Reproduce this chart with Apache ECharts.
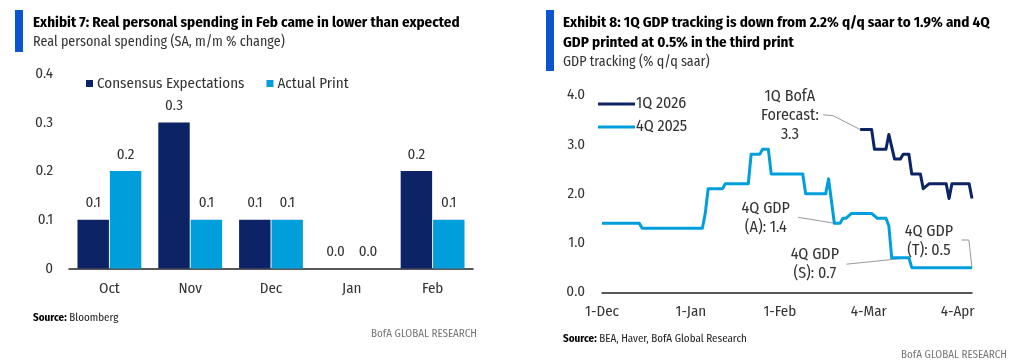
<!DOCTYPE html>
<html>
<head>
<meta charset="utf-8">
<script src="https://cdn.jsdelivr.net/npm/echarts@6/dist/echarts.min.js"></script>
<style>
html,body{margin:0;padding:0;background:#fff;}
#c{width:1024px;height:364px;}
</style>
</head>
<body>
<div id="c"></div>
<script>
// ---------- Data: Exhibit 7 ----------
var months = ['Oct', 'Nov', 'Dec', 'Jan', 'Feb'];
var consensus = [0.1, 0.3, 0.1, 0.0, 0.2];
var actual = [0.2, 0.1, 0.1, 0.0, 0.1];
var barTicks = [0, 0.1, 0.2, 0.3, 0.4];

// ---------- Data: Exhibit 8 ----------
var q1Dates = ['2026-03-01','2026-03-05','2026-03-06','2026-03-10','2026-03-11','2026-03-13','2026-03-15','2026-03-16','2026-03-18','2026-03-19','2026-03-22','2026-03-23','2026-03-25','2026-03-31','2026-04-01','2026-04-02','2026-04-08','2026-04-09'];
var q1Values = [3.3,3.3,2.9,2.9,3.2,2.7,2.7,2.8,2.8,2.4,2.4,2.1,2.2,2.2,1.9,2.2,2.2,1.9];
var q4Dates = ['2025-12-01','2025-12-14','2025-12-15','2026-01-05','2026-01-06','2026-01-07','2026-01-12','2026-01-13','2026-01-21','2026-01-22','2026-01-25','2026-01-26','2026-01-28','2026-01-29','2026-02-09','2026-02-10','2026-02-17','2026-02-18','2026-02-20','2026-02-22','2026-02-23','2026-02-24','2026-02-26','2026-03-05','2026-03-07','2026-03-10','2026-03-11','2026-03-12','2026-03-18','2026-03-19','2026-04-09'];
var q4Values = [1.4,1.4,1.3,1.3,1.6,2.1,2.1,2.2,2.2,2.8,2.8,2.9,2.9,2.4,2.4,2.0,2.0,2.3,1.4,1.4,1.5,1.5,1.6,1.6,1.5,1.5,1.35,0.7,0.7,0.5,0.5];
var gdpTickDates = ['2025-12-01','2026-01-01','2026-02-01','2026-03-04','2026-04-04'];
var gdpTickLabels = ['1-Dec','1-Jan','1-Feb','4-Mar','4-Apr'];
var gdpStart = '2025-12-01';
var gdpEnd = '2026-04-09';

function dayNum(s){
  var p = s.split('-'), b = gdpStart.split('-');
  return Math.round((Date.UTC(+p[0], +p[1]-1, +p[2]) - Date.UTC(+b[0], +b[1]-1, +b[2])) / 86400000);
}
function pairs(ds, vs){ return ds.map(function(d,i){ return [dayNum(d), vs[i]]; }); }
var tickDays = gdpTickDates.map(dayNum);

var FONT = "'Fira Sans Condensed', 'Roboto Condensed', 'DejaVu Sans Condensed', sans-serif";
var NAVY = '#0c2366';
var LIGHT = '#009fdb';
var TXT = '#333333';

var chart = echarts.init(document.getElementById('c'), null, {renderer:'canvas'});

var option = {
  backgroundColor: '#ffffff',
  animation: false,
  textStyle: {fontFamily: FONT},
  grid: [
    {left: 69, top: 73.7, width: 404, height: 194.8},
    {left: 602, top: 95, width: 370, height: 197.3}
  ],
  legend: [
    {
      data: ['Consensus Expectations', 'Actual Print'],
      left: 81, top: 71, icon: 'rect', itemWidth: 7, itemHeight: 7, itemGap: 22,
      textStyle: {fontFamily: FONT, fontSize: 15, color: TXT, padding: [0,0,0,-1]}
    },
    {
      data: ['1Q 2026', '4Q 2025'],
      orient: 'vertical', left: 593, top: 91, icon: 'rect', itemWidth: 37, itemHeight: 3, itemGap: 7,
      textStyle: {fontFamily: FONT, fontSize: 16, color: TXT, padding: [0,0,0,-4]}
    }
  ],
  xAxis: [
    {
      gridIndex: 0, type: 'category', data: months,
      axisLine: {lineStyle: {color: '#222', width: 1.5}},
      axisTick: {show: false},
      axisLabel: {fontFamily: FONT, fontSize: 15, color: TXT, margin: 13}
    },
    {
      gridIndex: 1, type: 'value', min: 0, max: dayNum(gdpEnd), interval: 31,
      axisLine: {onZero: false, lineStyle: {color: '#222', width: 1.5}},
      axisTick: {show: false},
      splitLine: {show: false},
      axisLabel: {fontFamily: FONT, fontSize: 15, color: TXT, margin: 12, showMaxLabel: false,
        formatter: function(v){ var i = tickDays.indexOf(Math.round(v)); return i >= 0 ? gdpTickLabels[i] : ''; }}
    }
  ],
  yAxis: [
    {
      gridIndex: 0, type: 'value', min: barTicks[0], max: barTicks[barTicks.length-1], interval: 0.1,
      axisLine: {show: false}, axisTick: {show: false}, splitLine: {show: false},
      axisLabel: {fontFamily: FONT, fontSize: 15, color: TXT, margin: 16,
        formatter: function(v){ return v === 0 ? '0' : v.toFixed(1); }}
    },
    {
      gridIndex: 1, type: 'value', min: 0, max: 4, interval: 1,
      axisLine: {show: false}, axisTick: {show: false}, splitLine: {show: false},
      axisLabel: {fontFamily: FONT, fontSize: 15, color: TXT, margin: 17,
        formatter: function(v){ return v.toFixed(1); }}
    }
  ],
  series: [
    {
      name: 'Consensus Expectations', type: 'bar', xAxisIndex: 0, yAxisIndex: 0,
      data: consensus, barGap: '3%', barCategoryGap: '21%',
      itemStyle: {color: NAVY},
      label: {show: true, position: 'top', distance: 9, fontFamily: FONT, fontSize: 15, color: TXT,
        formatter: function(p){ return p.value.toFixed(1); }}
    },
    {
      name: 'Actual Print', type: 'bar', xAxisIndex: 0, yAxisIndex: 0,
      data: actual, barGap: '3%', barCategoryGap: '21%',
      itemStyle: {color: LIGHT},
      label: {show: true, position: 'top', distance: 9, fontFamily: FONT, fontSize: 15, color: TXT,
        formatter: function(p){ return p.value.toFixed(1); }}
    },
    {
      name: '1Q 2026', type: 'line', xAxisIndex: 1, yAxisIndex: 1,
      data: pairs(q1Dates, q1Values), showSymbol: false, symbol: 'none',
      lineStyle: {color: NAVY, width: 3, join: 'round'}, itemStyle: {color: NAVY}, z: 4
    },
    {
      name: '4Q 2025', type: 'line', xAxisIndex: 1, yAxisIndex: 1,
      data: pairs(q4Dates, q4Values), showSymbol: false, symbol: 'none',
      lineStyle: {color: LIGHT, width: 3, join: 'round'}, itemStyle: {color: LIGHT}, z: 3
    }
  ]
};
chart.setOption(option);

// ---------- Static page text ----------
function srcText(x, y, rest){
  return {type: 'text', left: x, top: y, style: {
    text: '{b|Source:} ' + rest, font: '11px ' + FONT, fill: '#222',
    rich: {b: {fontWeight: 'bold', fontFamily: FONT, fontSize: 11, fill: '#000'}}
  }};
}
var graphics = [
  {type: 'rect', shape: {x: 15, y: 10, width: 8, height: 42}, style: {fill: '#0b55d0'}},
  {type: 'text', x: 33, y: 23, style: {text: 'Exhibit 7: Real personal spending in Feb came in lower than expected', font: 'bold 15px ' + FONT, fill: '#000', textVerticalAlign: 'middle'}},
  {type: 'text', x: 33, y: 42.5, style: {text: 'Real personal spending (SA, m/m % change)', font: '14px ' + FONT, fill: '#333', textVerticalAlign: 'middle'}},
  srcText(33, 312, 'Bloomberg'),
  {type: 'text', x: 477, y: 334, style: {text: 'BofA GLOBAL RESEARCH', font: '11px ' + FONT, fill: '#777', textAlign: 'right', textVerticalAlign: 'middle'}},

  {type: 'rect', shape: {x: 546, y: 10, width: 8, height: 61}, style: {fill: '#0b55d0'}},
  {type: 'text', x: 563, y: 23, style: {text: 'Exhibit 8: 1Q GDP tracking is down from 2.2% q/q saar to 1.9% and 4Q', font: 'bold 15px ' + FONT, fill: '#000', textVerticalAlign: 'middle'}},
  {type: 'text', x: 563, y: 43, style: {text: 'GDP printed at 0.5% in the third print', font: 'bold 15px ' + FONT, fill: '#000', textVerticalAlign: 'middle'}},
  {type: 'text', x: 563, y: 62.5, style: {text: 'GDP tracking (% q/q saar)', font: '14px ' + FONT, fill: '#333', textVerticalAlign: 'middle'}},
  srcText(563, 333, 'BEA, Haver, BofA Global Research'),
  {type: 'text', x: 1007, y: 355, style: {text: 'BofA GLOBAL RESEARCH', font: '11px ' + FONT, fill: '#777', textAlign: 'right', textVerticalAlign: 'middle'}}
];

// ---------- Annotations in data space of Exhibit 8 ----------
var annotations = [
  {text: '1Q BofA\nForecast:\n3.3', at: [65.5, 3.58], leader: [[77.1, 3.60], [80.6, 3.58], [dayNum(q1Dates[0]), q1Values[0]]]},
  {text: '4Q GDP\n(A): 1.4', at: [57.1, 1.51], leader: [[68.4, 1.52], [dayNum('2026-02-20'), 1.4]]},
  {text: '4Q GDP\n(S): 0.7', at: [74.2, 0.58], leader: [[85.2, 0.57], [dayNum('2026-03-18'), 0.7]]},
  {text: '4Q GDP\n(T): 0.5', at: [114, 1.04], leader: [[125.3, 1.06], [127.9, 1.06], [dayNum(gdpEnd), 0.5]]}
];
annotations.forEach(function(a){
  var p = chart.convertToPixel({gridIndex: 1}, a.at);
  graphics.push({type: 'text', x: p[0], y: p[1], z: 10, style: {
    text: a.text, font: '16px ' + FONT, fill: TXT, textAlign: 'center', textVerticalAlign: 'middle', lineHeight: 19
  }});
  var pts = a.leader.map(function(d){ return chart.convertToPixel({gridIndex: 1}, d); });
  graphics.push({type: 'polyline', z: 2, shape: {points: pts}, style: {stroke: '#9a9a9a', lineWidth: 1, fill: null}});
});

chart.setOption({graphic: graphics});
</script>
</body>
</html>
